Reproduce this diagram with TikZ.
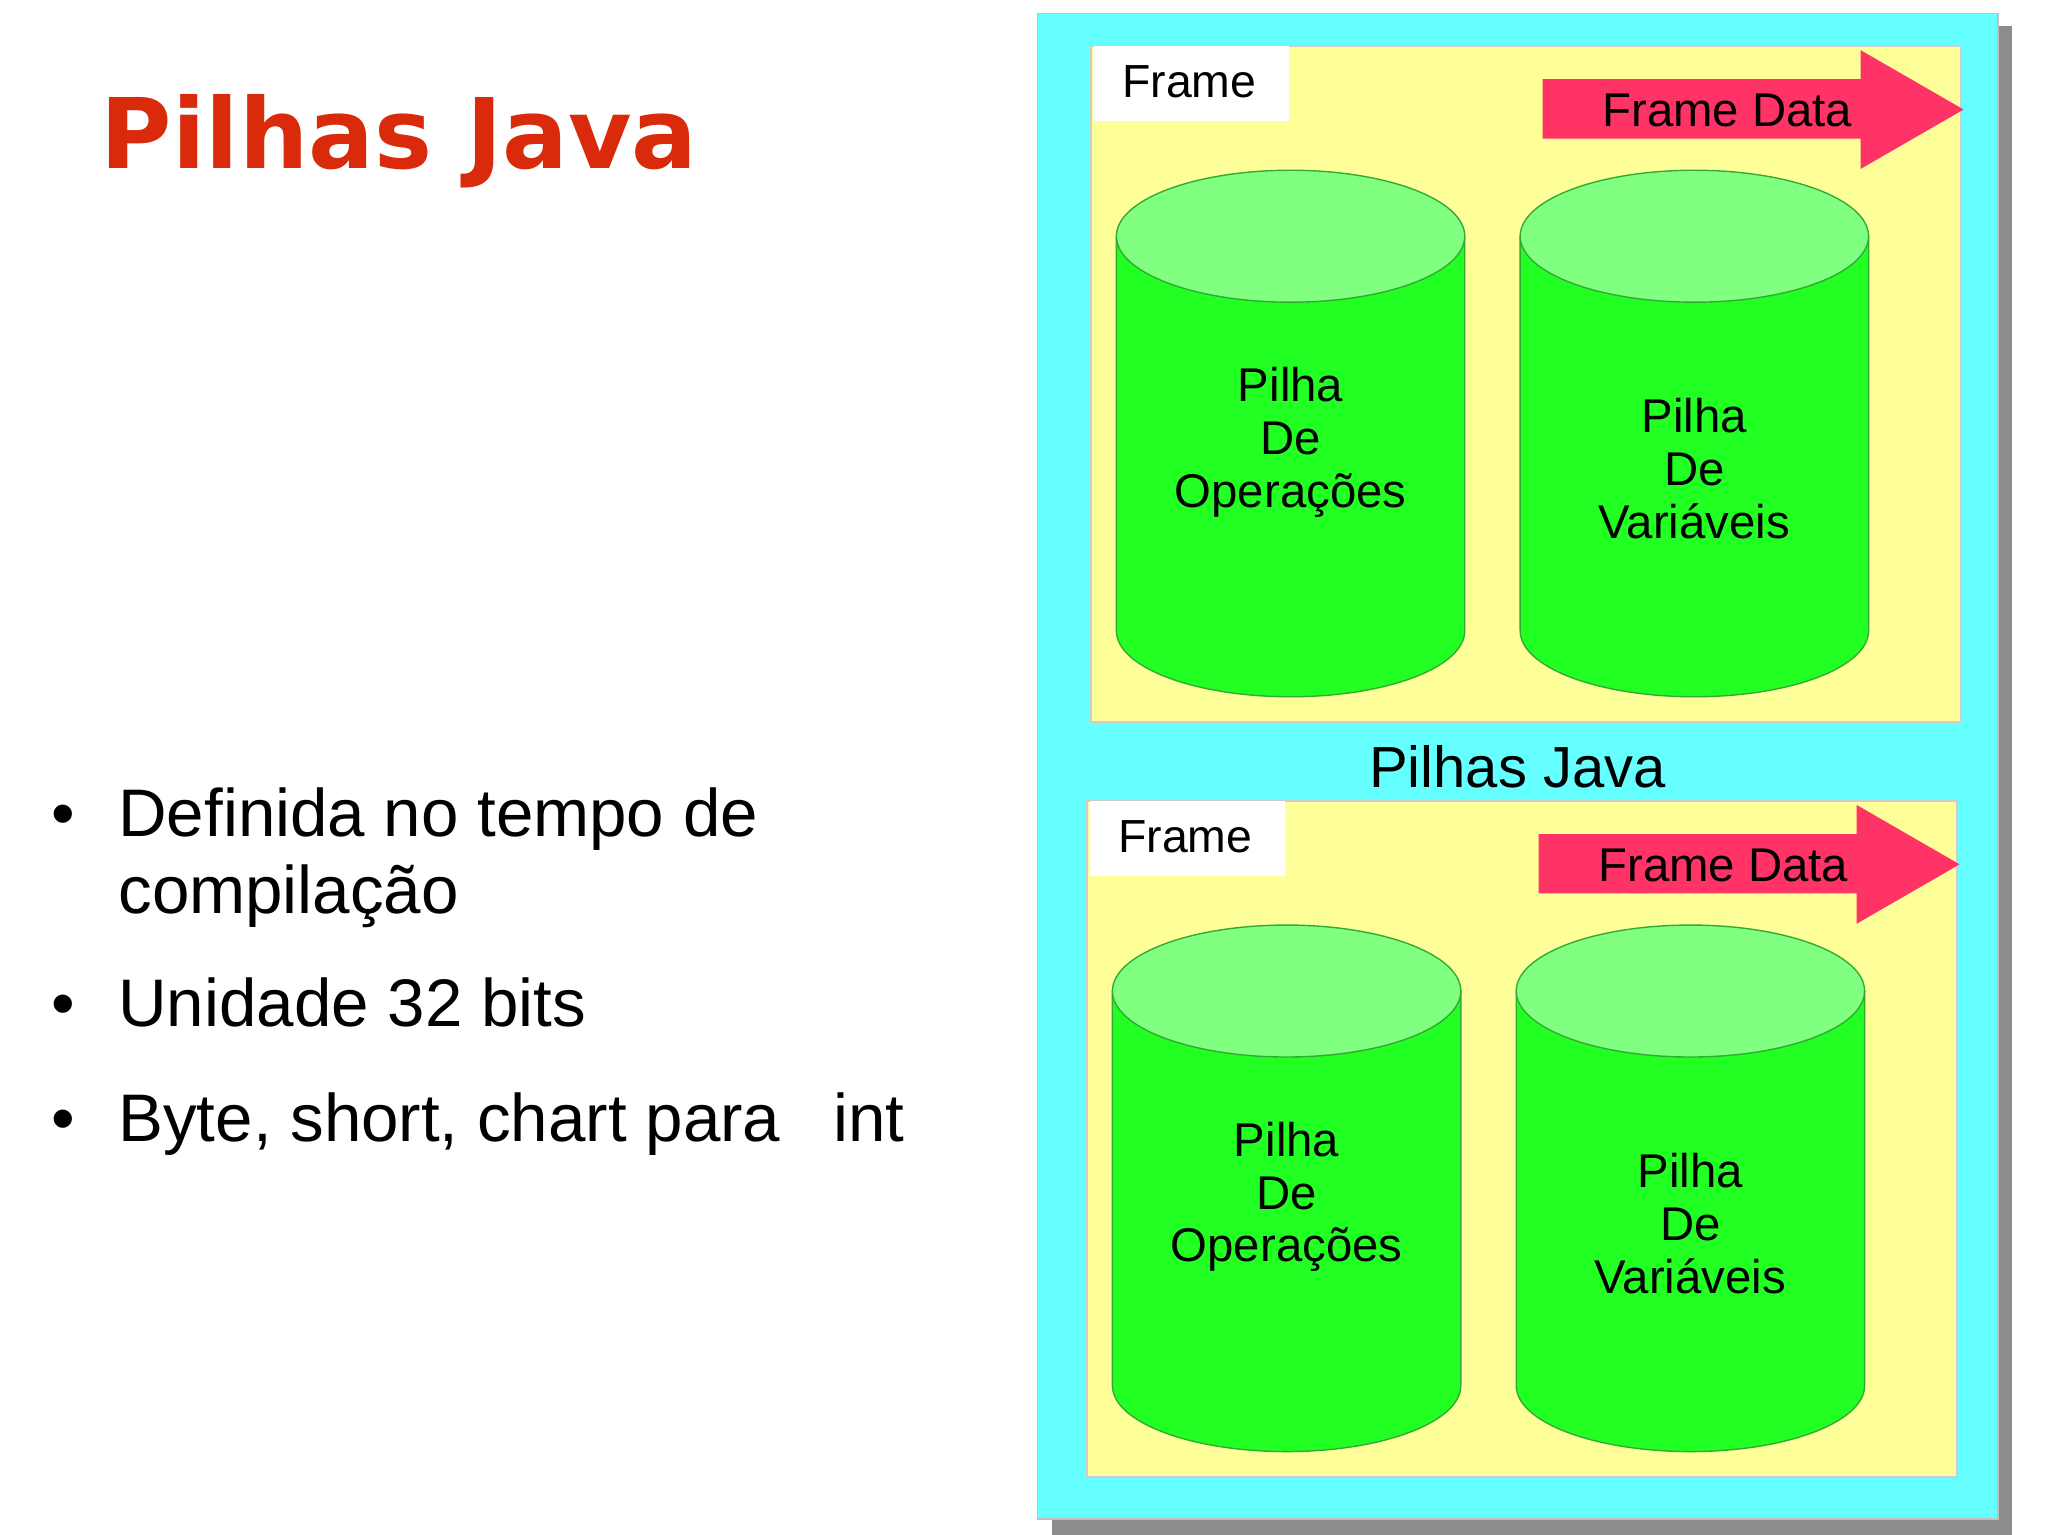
\documentclass[tikz,border=0pt]{standalone}
\usepackage{fontspec}
\setmainfont{Liberation Sans}
\newfontfamily\titlefont{DejaVu Sans}
\definecolor{cyanbg}{HTML}{66FFFF}
\definecolor{yel}{HTML}{FFFF99}
\definecolor{pinkr}{HTML}{FF3366}
\definecolor{gbody}{HTML}{22FF22}
\definecolor{gtop}{HTML}{80FF80}
\definecolor{gline}{HTML}{33AA33}
\definecolor{titred}{HTML}{D92B0C}
\tikzset{
  lbl/.style={font=\fontsize{10}{11}\selectfont, align=center},
  cyltxt/.style={font=\fontsize{10.2}{11.4}\selectfont, align=center},
  bul/.style={anchor=base west, font=\fontsize{14.5}{16.5}\selectfont, align=left, inner sep=0pt},
}
\newcommand{\frameblock}[3]{%
\begin{scope}[shift={(#1,#2)}]
  \fill[yel] (827,35) rectangle (1486,547);
  \draw[gray!40] (827,35) rectangle (1486,547);
  \fill[white] (829,35) rectangle (977,92);
  \node[lbl, anchor=west] (fr#3) at (838,62) {Frame};
  \fill[pinkr] (1169,60) -- (1410,60) -- (1410,38) -- (1488,83) -- (1410,128) -- (1410,105) -- (1169,105) -- cycle;
  \node[lbl, font=\fontsize{10.2}{11}\selectfont] (fd#3) at (1309,84) {Frame Data};
  \foreach \cx/\nm/\ty/\tt in {978/a/335/{Pilha\\De\\Operações},1284/b/355/{Pilha\\ De\\Variáveis}}{
    \fill[gbody, draw=gline, line width=0.3pt] (\cx-132,179) -- (\cx-132,478) arc[start angle=180,end angle=0,x radius=132,y radius=50] -- (\cx+132,179) -- cycle;
    \fill[gtop, draw=gline, line width=0.3pt] (\cx,179) ellipse[x radius=132, y radius=50];
    \node[cyltxt] (c\nm#3) at (\cx,\ty) {\tt};
  }
\end{scope}}
\begin{document}
\begin{tikzpicture}[x=0.01cm,y=-0.01cm]
\useasboundingbox (0,0) rectangle (1552,1163);
\fill[white] (0,0) rectangle (1552,1163);
\node[anchor=west, text=titred, font=\titlefont\bfseries\fontsize{21}{24}\selectfont] (title) at (64,107) {Pilhas Java};
\node[bul] (b0) at (38,634) {•};
\node[bul] (b1) at (89,634) {Definida no tempo de};
\node[bul] (b1b) at (89,692) {compilação};
\node[bul] (b2d) at (38,778) {•};
\node[bul] (b2) at (89,778) {Unidade 32 bits};
\node[bul] (b3d) at (38,865) {•};
\node[bul] (b3) at (89,865) {Byte, short, chart para\hspace{0.4cm}int};
\fill[gray!90] (797,20) rectangle (1525,1163);
\fill[cyanbg] (786,10) rectangle (1514,1151);
\draw[gray!50, line width=0.3pt] (786,10) rectangle (1514,1151);
\frameblock{0}{0}{1}
\frameblock{-3}{572}{2}
\node[font=\fontsize{12.5}{14}\selectfont] (pj) at (1150,581) {Pilhas Java};
\end{tikzpicture}
\end{document}
